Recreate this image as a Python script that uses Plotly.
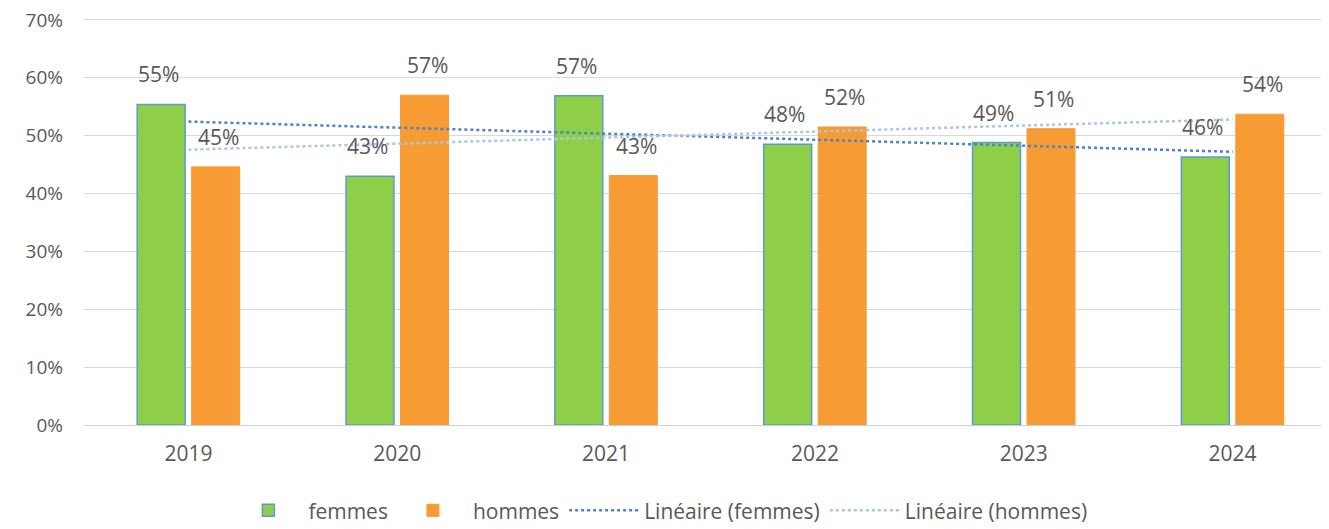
import numpy as np
import plotly.graph_objects as go

# Data (percent)
years = ["2019", "2020", "2021", "2022", "2023", "2024"]
femmes = [55.4, 43.0, 56.9, 48.5, 48.8, 46.3]
hommes = [44.6, 57.0, 43.1, 51.5, 51.2, 53.7]
y_ticks = [0, 10, 20, 30, 40, 50, 60, 70]
y_tick_labels = ["0%", "10%", "20%", "30%", "40%", "50%", "60%", "70%"]

GREEN = "#8FCF48"
GREEN_EDGE = "#5B9BD5"
ORANGE = "#F79B35"
TREND_F = "#4F81C7"
TREND_H = "#A9C6E3"
TEXT = "#595959"
FONT = "Open Sans"


def linear_trend(values):
    """Excel-style linear trendline over category index."""
    idx = np.arange(len(values))
    slope, intercept = np.polyfit(idx, values, 1)
    return list(slope * idx + intercept)


fig = go.Figure()

fig.add_trace(go.Bar(
    x=years, y=femmes, name="femmes",
    marker=dict(color=GREEN, line=dict(color=GREEN_EDGE, width=1.5)),
))
fig.add_trace(go.Bar(
    x=years, y=hommes, name="hommes",
    marker=dict(color=ORANGE, line=dict(color=ORANGE, width=1)),
))

fig.add_trace(go.Scatter(
    x=years, y=linear_trend(femmes), mode="lines",
    name="Linéaire (femmes)",
    line=dict(color=TREND_F, width=2.5, dash="dot"),
))
fig.add_trace(go.Scatter(
    x=years, y=linear_trend(hommes), mode="lines",
    name="Linéaire (hommes)",
    line=dict(color=TREND_H, width=2.5, dash="dot"),
))

# Data labels above each bar (x given as category index)
for series, shift in ((femmes, -30), (hommes, 30)):
    for i, v in enumerate(series):
        fig.add_annotation(
            x=i, y=v, text=f"{round(v)}%", showarrow=False,
            xshift=shift, yshift=14, yanchor="bottom",
            font=dict(size=21, color=TEXT, family=FONT),
        )

# page has an 8px body margin, so margins are offset by 8px
fig.update_layout(
    width=1329, height=529,
    barmode="group", bargap=0.478, bargroupgap=0.12,
    plot_bgcolor="white", paper_bgcolor="white",
    margin=dict(l=76, r=0, t=9, b=112, autoexpand=False),
    font=dict(family=FONT, size=21, color=TEXT),
    legend=dict(
        orientation="h", x=0.46, xanchor="center", y=-0.21, yanchor="middle",
        font=dict(size=21, color=TEXT), itemwidth=70,
        traceorder="normal",
    ),
)

fig.update_xaxes(
    type="category", range=[-0.5, 5.5],
    showgrid=False, showline=False, ticks="", ticklabelstandoff=14,
    tickfont=dict(size=21),
)
fig.update_yaxes(
    range=[0, 70.5], tickmode="array", tickvals=y_ticks, ticktext=y_tick_labels,
    showgrid=True, gridcolor="#D9D9D9", gridwidth=1,
    zeroline=True, zerolinecolor="#D0D0D0", zerolinewidth=1,
    showline=False, ticks="", ticklabelstandoff=20,
    ticklabeloverflow="allow",
    tickfont=dict(size=19),
)

fig.write_html("out.html")
